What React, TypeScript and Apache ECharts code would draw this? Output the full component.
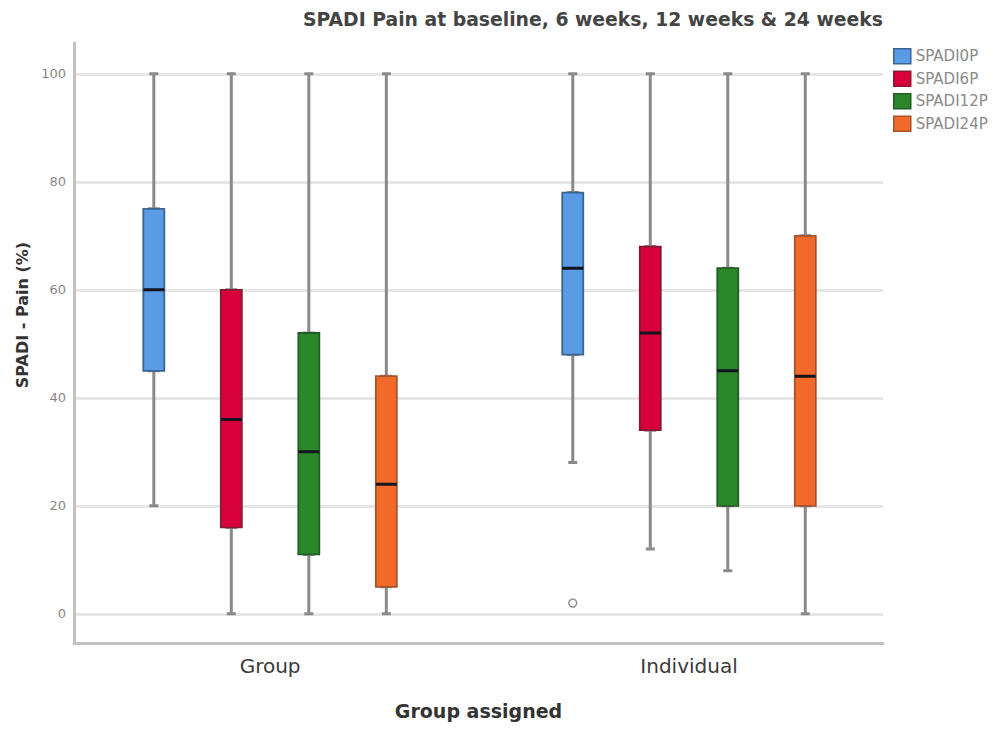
import React, { useEffect, useRef } from "react";
import * as echarts from "echarts";

// ---- data ----
const categories = ["Group", "Individual"];
const seriesNames = ["SPADI0P", "SPADI6P", "SPADI12P", "SPADI24P"];
// each row: [min, Q1, median, Q3, max] for Group, Individual
const spadi0P = [
  [20, 45, 60, 75, 100],
  [28, 48, 64, 78, 100],
];
const spadi6P = [
  [0, 16, 36, 60, 100],
  [12, 34, 52, 68, 100],
];
const spadi12P = [
  [0, 11, 30, 52, 100],
  [8, 20, 45, 64, 100],
];
const spadi24P = [
  [0, 5, 24, 44, 100],
  [0, 20, 44, 70, 100],
];
// outliers: [series index, category index, value]
const outliers = [[0, 1, 2]];
const yTicks = [0, 20, 40, 60, 80, 100];

// ---- styling ----
const fills = ["#5a9be6", "#d8003a", "#2a882a", "#f26a2a"];
const borders = ["#3b6390", "#861a34", "#235c26", "#a5532d"];
const FONT = "DejaVu Sans";
const X_MIN = 0.032;
const X_MAX = 1.963;
const BOX_STEP = 0.185;

const allSeries = [spadi0P, spadi6P, spadi12P, spadi24P];
const xPos = (ci: number, si: number) => ci + 0.5 + (si - 1.5) * BOX_STEP;

export default function App() {
  const ref = useRef<HTMLDivElement>(null);
  useEffect(() => {
    if (!ref.current) return;
    const chart = echarts.init(ref.current, null, { renderer: "svg" });

    const hiddenX = (i: number) => ({
      type: "value",
      gridIndex: 0,
      min: X_MIN,
      max: X_MAX,
      show: false,
      id: "hx" + i,
    });

    const boxSeries = allSeries.map((vals, si) => ({
      type: "boxplot",
      name: seriesNames[si],
      xAxisIndex: si + 1,
      yAxisIndex: 0,
      boxWidth: [21, 21],
      z: 3,
      itemStyle: { color: fills[si], borderColor: borders[si], borderWidth: 1.8 },
      data: vals.map((v, ci) => [xPos(ci, si), v[1], v[1], v[2], v[3], v[3]]),
    }));

    const whiskerData: number[][] = [];
    const medianData: number[][] = [];
    allSeries.forEach((vals, si) => {
      vals.forEach((v, ci) => {
        whiskerData.push([xPos(ci, si), v[0], v[1], v[2], v[3], v[4]]);
        medianData.push([xPos(ci, si), v[2], v[2], v[2], v[2], v[2]]);
      });
    });

    const option: any = {
      animation: false,
      backgroundColor: "#ffffff",
      textStyle: { fontFamily: FONT },
      title: {
        text: "SPADI Pain at baseline, 6 weeks, 12 weeks & 24 weeks",
        left: 298,
        top: 5,
        textStyle: { fontFamily: FONT, fontSize: 18.8, fontWeight: "bold", color: "#444" },
      },
      legend: {
        orient: "vertical",
        left: 888,
        top: 43,
        icon: "rect",
        itemWidth: 17,
        itemHeight: 15,
        itemGap: 6,
        selectedMode: false,
        data: seriesNames.map((n, i) => ({
          name: n,
          itemStyle: { color: fills[i], borderColor: borders[i], borderWidth: 1.5 },
        })),
        textStyle: { fontFamily: FONT, fontSize: 15, color: "#8a8a8a" },
      },
      grid: { left: 74, right: 117, top: 43, bottom: 88 },
      xAxis: [
        {
          type: "value",
          gridIndex: 0,
          min: X_MIN,
          max: X_MAX,
          axisLine: { show: true, onZero: false, lineStyle: { color: "#c2c2c2", width: 3 } },
          axisTick: { show: false },
          splitLine: { show: false },
          axisLabel: {
            customValues: [0.5, 1.5],
            formatter: (v: number) => categories[Math.round(v - 0.5)],
            color: "#3a3a3a",
            fontFamily: FONT,
            fontSize: 20,
            margin: 13,
          },
          name: "Group assigned",
          nameLocation: "middle",
          nameGap: 58,
          nameTextStyle: { fontFamily: FONT, fontSize: 19, fontWeight: "bold", color: "#333" },
        },
        hiddenX(1),
        hiddenX(2),
        hiddenX(3),
        hiddenX(4),
        hiddenX(5),
      ],
      yAxis: {
        type: "value",
        min: -5.4,
        max: 105.7,
        axisLine: { show: true, onZero: false, lineStyle: { color: "#c2c2c2", width: 3 } },
        axisTick: { show: false, customValues: yTicks },
        axisLabel: { customValues: yTicks, color: "#888", fontFamily: FONT, fontSize: 13, margin: 8 },
        splitLine: { show: true, lineStyle: { color: "#e6e6e6", width: 3 } },
        name: "SPADI - Pain (%)",
        nameLocation: "middle",
        nameGap: 42,
        nameTextStyle: {
          fontFamily: FONT,
          fontSize: 16,
          fontWeight: "bold",
          color: "#333",
          padding: [0, 0, 0, 56],
        },
      },
      series: [
        ...boxSeries,
        {
          type: "boxplot",
          name: "whiskers",
          xAxisIndex: 0,
          yAxisIndex: 0,
          boxWidth: [9, 9],
          z: 2,
          itemStyle: { color: "#ffffff", borderColor: "#8a8a8a", borderWidth: 3 },
          data: whiskerData,
        },
        {
          type: "boxplot",
          name: "medians",
          xAxisIndex: 5,
          yAxisIndex: 0,
          boxWidth: [21, 21],
          z: 4,
          itemStyle: { color: "none", borderColor: "#141420", borderWidth: 3 },
          data: medianData,
        },
        {
          type: "scatter",
          name: "outliers",
          xAxisIndex: 0,
          yAxisIndex: 0,
          symbol: "circle",
          symbolSize: 8,
          z: 5,
          itemStyle: { color: "#ffffff", borderColor: "#777", borderWidth: 1.5 },
          data: outliers.map(([si, ci, v]) => [xPos(ci, si), v]),
        },
      ],
    };
    chart.setOption(option);
    return () => chart.dispose();
  }, []);
  return (
    <div
      ref={ref}
      style={{ position: "fixed", left: 0, top: 0, width: 1000, height: 731 }}
    />
  );
}
